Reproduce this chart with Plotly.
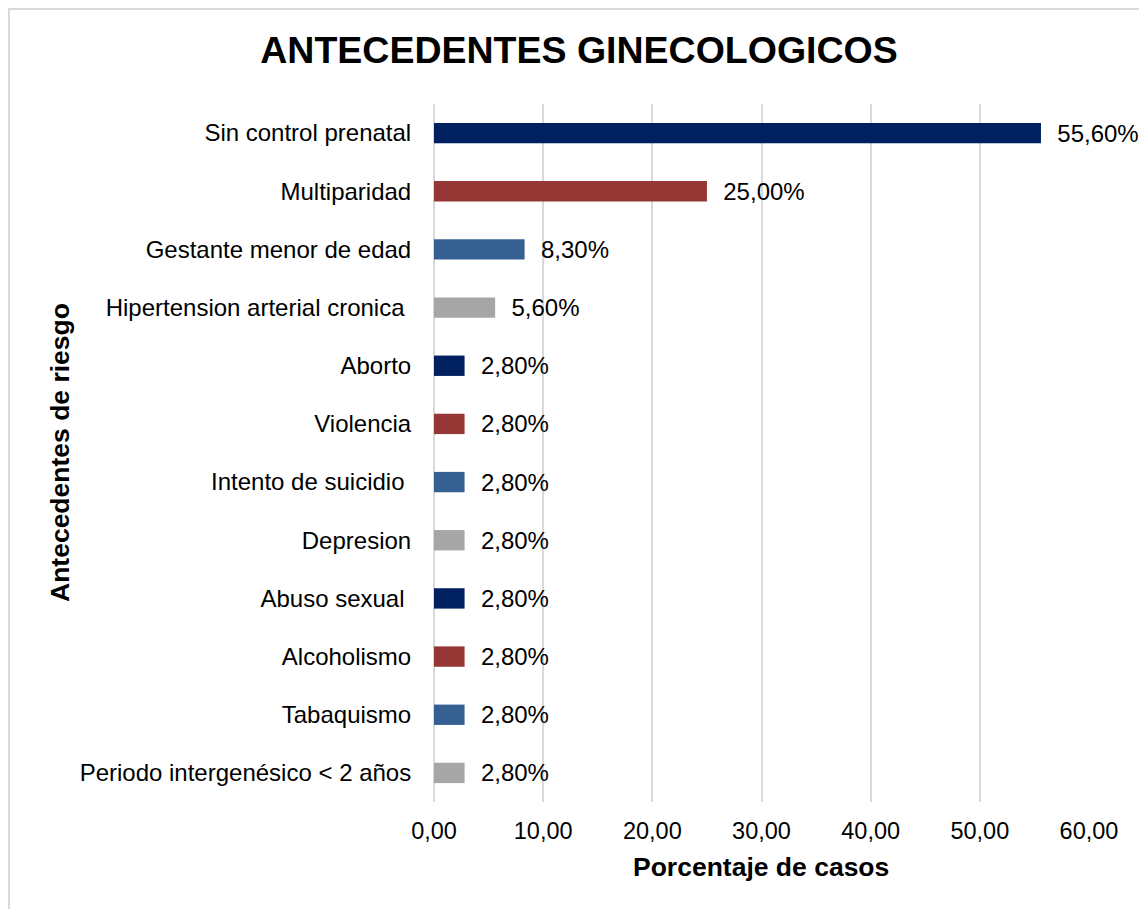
import plotly.graph_objects as go

# Datos del grafico
categorias = [
    "Sin control prenatal",
    "Multiparidad",
    "Gestante menor de edad",
    "Hipertension arterial cronica\u00a0",
    "Aborto",
    "Violencia",
    "Intento de suicidio\u00a0",
    "Depresion",
    "Abuso sexual\u00a0",
    "Alcoholismo",
    "Tabaquismo",
    "Periodo intergenésico < 2 años",
]
porcentajes = [55.6, 25.0, 8.3, 5.6, 2.8, 2.8, 2.8, 2.8, 2.8, 2.8, 2.8, 2.8]
colores = ["#002060", "#953735", "#376092", "#A6A6A6"] * 3

W, H = 1139, 909
L, R, T, B = 434, 50, 104, 107
pw, ph = W - L - R, H - T - B

fig = go.Figure(go.Bar(
    x=porcentajes,
    y=categorias,
    orientation="h",
    marker=dict(color=colores, line=dict(width=0)),
    width=0.35,
    text=porcentajes,
    texttemplate="\u00a0\u00a0%{x:.2f}%",
    textposition="outside",
    constraintext="none",
    textfont=dict(size=24, color="#000000"),
    cliponaxis=False,
))

fig.update_layout(
    width=W, height=H,
    margin=dict(l=L, r=R, t=T, b=B),
    paper_bgcolor="white",
    plot_bgcolor="white",
    separators=",.",
    font=dict(family="Liberation Sans, Arial", color="#000000"),
    showlegend=False,
    title=dict(
        text="<b>ANTECEDENTES GINECOLOGICOS</b>",
        font=dict(size=37.5, color="#000000"),
        x=579 / W, xanchor="center",
        y=1 - 50 / H, yanchor="middle",
    ),
    xaxis=dict(
        range=[0, 60],
        dtick=10,
        tickformat=".2f",
        showgrid=True,
        gridcolor="#D9D9D9",
        gridwidth=2,
        zeroline=True,
        zerolinecolor="#D9D9D9",
        zerolinewidth=2,
        showline=False,
        ticks="outside", ticklen=8, tickcolor="rgba(0,0,0,0)",
        tickfont=dict(size=23.5),
    ),
    yaxis=dict(
        categoryorder="array",
        categoryarray=categorias,
        autorange="reversed",
        showgrid=False,
        zeroline=False,
        showline=False,
        ticks="outside", ticklen=17, tickcolor="rgba(0,0,0,0)",
        tickfont=dict(size=24),
    ),
    annotations=[
        dict(
            text="<b>Porcentaje de casos</b>",
            xref="paper", yref="paper",
            x=(761 - L) / pw, y=-(867 - (T + ph)) / ph,
            xanchor="center", yanchor="middle",
            showarrow=False, font=dict(size=26.5),
        ),
        dict(
            text="<b>Antecedentes de riesgo</b>",
            xref="paper", yref="paper",
            x=(60 - L) / pw, y=(T + ph - 453) / ph,
            xanchor="center", yanchor="middle",
            textangle=-90,
            showarrow=False, font=dict(size=26.5),
        ),
    ],
    shapes=[
        dict(
            type="rect", xref="paper", yref="paper",
            x0=(9 - L) / pw, x1=(W + 20 - L) / pw,
            y0=-(H + 20 - (T + ph)) / ph, y1=(T + ph - 9) / ph,
            line=dict(color="#D9D9D9", width=2),
            fillcolor="rgba(0,0,0,0)",
            layer="below",
        )
    ],
)

# quitar el margen por defecto del body para que el grafico quede en (0,0)
fig.write_html(
    "out.html",
    config={"displayModeBar": False},
    post_script="document.body.style.margin='0';",
)
